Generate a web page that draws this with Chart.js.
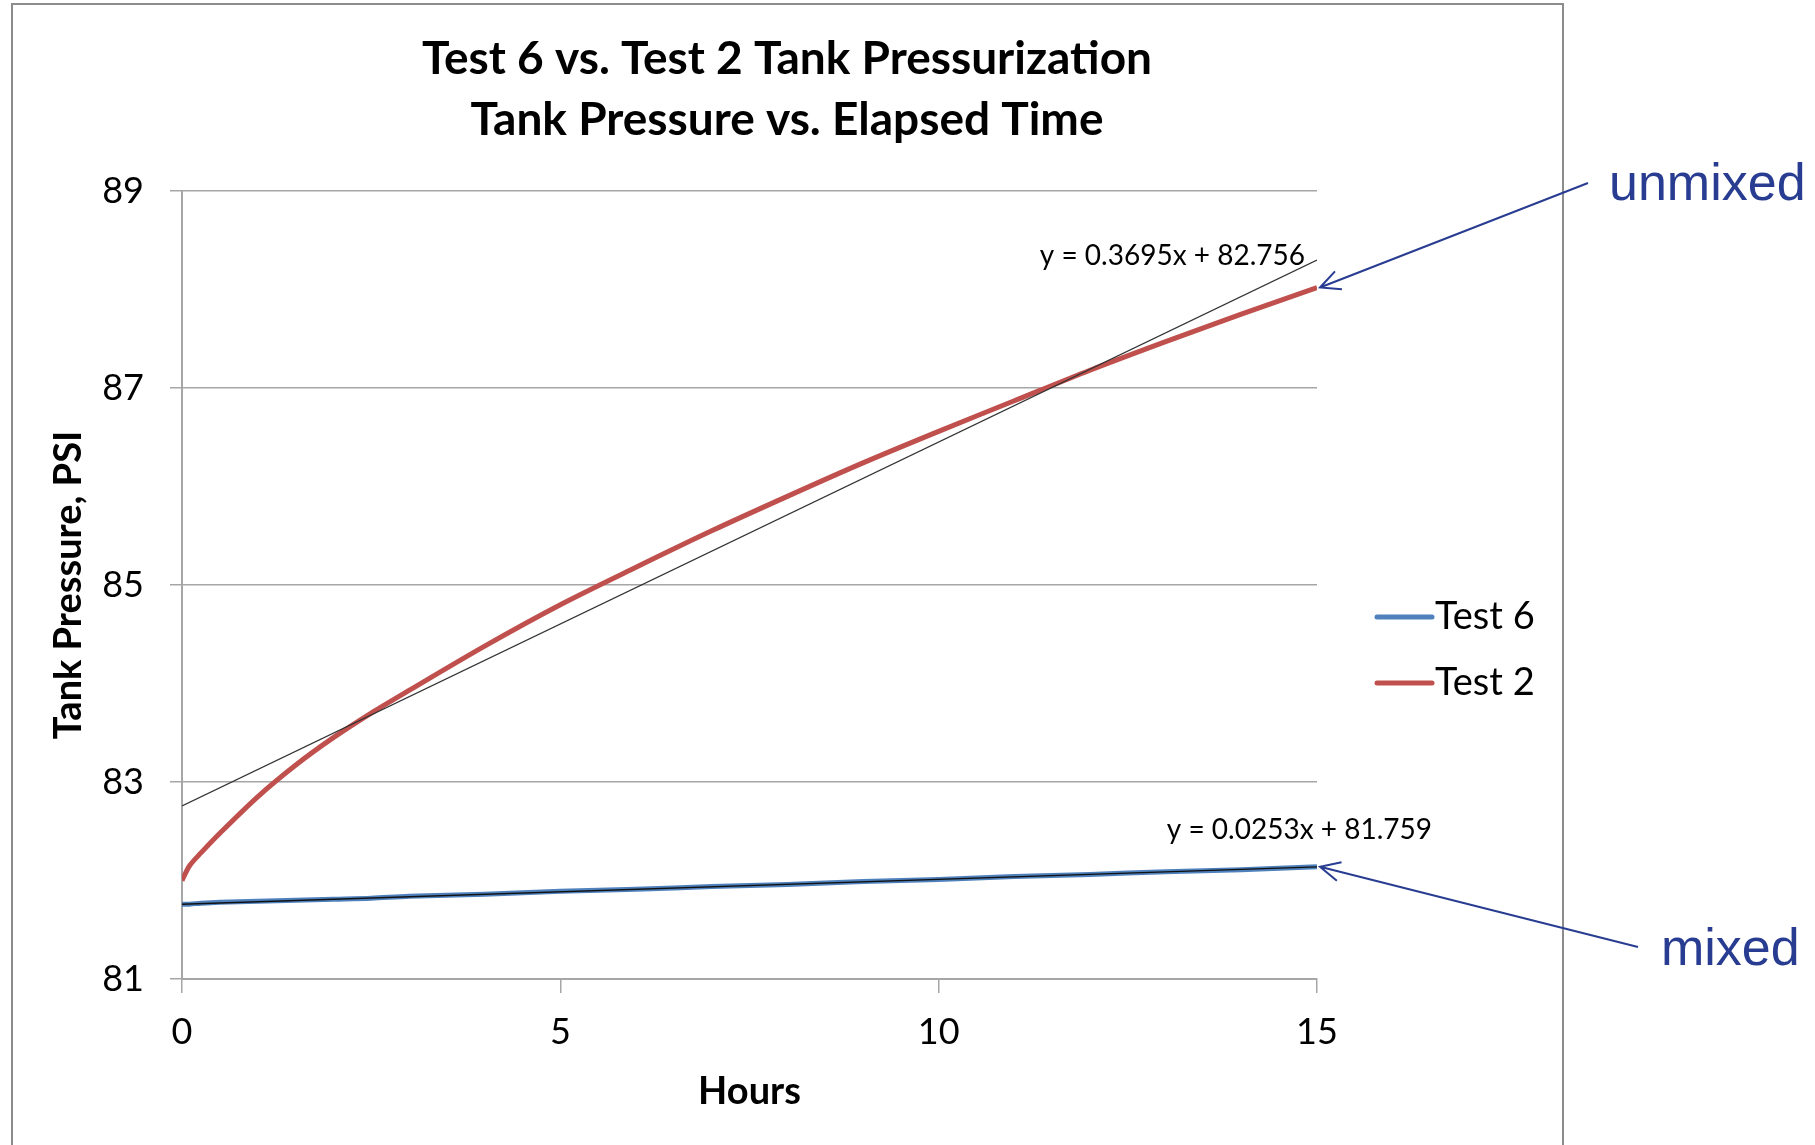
<!DOCTYPE html>
<html>
<head>
<meta charset="utf-8">
<script src="https://cdn.jsdelivr.net/npm/chart.js@4.4.1/dist/chart.umd.min.js"></script>
<style>
  html, body { margin: 0; padding: 0; background: #fff; }
  #wrap { position: relative; width: 1815px; height: 1145px; }
</style>
</head>
<body>
<div id="wrap"><canvas id="tankChart" width="1815" height="1145"></canvas></div>
<script>
// hours and tank pressure
const hours = [0, 0.1, 0.25, 0.5, 1, 1.5, 2, 2.5, 3, 4, 5, 6, 7, 8, 9, 10, 11, 12, 13, 14, 15];
const test2 = [82.0, 82.15, 82.28, 82.48, 82.85, 83.17, 83.45, 83.70, 83.93, 84.38, 84.80, 85.18, 85.55, 85.90, 86.24, 86.56, 86.87, 87.18, 87.47, 87.75, 88.02];
const test6 = [81.76, 81.76, 81.77, 81.78, 81.79, 81.80, 81.81, 81.82, 81.84, 81.86, 81.89, 81.91, 81.94, 81.96, 81.99, 82.01, 82.04, 82.06, 82.09, 82.11, 82.14];

// linear trendlines as printed on the chart
const trendHours = [0, 15];
const test2Trend = [82.756, 88.299];
const test6Trend = [81.759, 82.139];
const trendLabels = ['y = 0.3695x + 82.756', 'y = 0.0253x + 81.759'];

const xTicks = [0, 5, 10, 15];
const yTicks = [81, 83, 85, 87, 89];

const titleLines = ['Test 6 vs. Test 2 Tank Pressurization', 'Tank Pressure vs. Elapsed Time'];

const pts = (xs, ys) => xs.map((x, i) => ({ x: x, y: ys[i] }));

const FONT = 'Lato, "Open Sans", sans-serif';
const GRID = '#a6a6a6';
const NAVY = '#283c91';

function arrow(ctx, x1, y1, x2, y2) {
  const a = Math.atan2(y2 - y1, x2 - x1);
  const len = 22, spread = 0.45;
  ctx.beginPath();
  ctx.moveTo(x1, y1);
  ctx.lineTo(x2, y2);
  ctx.moveTo(x2 - len * Math.cos(a - spread), y2 - len * Math.sin(a - spread));
  ctx.lineTo(x2, y2);
  ctx.lineTo(x2 - len * Math.cos(a + spread), y2 - len * Math.sin(a + spread));
  ctx.stroke();
}

const decor = {
  id: 'decor',
  beforeDraw(chart) {
    const ctx = chart.ctx;
    ctx.save();
    ctx.fillStyle = '#fff';
    ctx.fillRect(0, 0, chart.width, chart.height);
    // chart frame
    ctx.strokeStyle = '#8c8c8c';
    ctx.lineWidth = 2;
    ctx.strokeRect(12, 4, 1551, 1200);
    ctx.restore();
  },
  afterDraw(chart) {
    const ctx = chart.ctx;
    const xs = chart.scales.x, ys = chart.scales.y;
    ctx.save();

    // two-line title
    ctx.fillStyle = '#000';
    ctx.textAlign = 'center';
    ctx.textBaseline = 'middle';
    ctx.font = 'bold 46px ' + FONT;
    ctx.fillText(titleLines[0], 787, 59);
    ctx.fillText(titleLines[1], 787, 120);

    // legend
    const lx = 1377, lys = [617, 683];
    [0, 1].forEach(i => {
      const ds = chart.data.datasets[i];
      ctx.strokeStyle = ds.borderColor;
      ctx.lineWidth = 5;
      ctx.lineCap = 'round';
      ctx.beginPath();
      ctx.moveTo(lx, lys[i]);
      ctx.lineTo(lx + 55, lys[i]);
      ctx.stroke();
      ctx.fillStyle = '#000';
      ctx.textAlign = 'left';
      ctx.font = '38px ' + FONT;
      ctx.fillText(ds.label, lx + 58, lys[i]);
    });

    // trendline equations
    ctx.font = '28px ' + FONT;
    ctx.textAlign = 'right';
    ctx.fillStyle = '#000';
    ctx.fillText(trendLabels[0], xs.getPixelForValue(15) - 12, ys.getPixelForValue(test2Trend[1]) - 4);
    ctx.fillText(trendLabels[1], xs.getPixelForValue(15) + 115, ys.getPixelForValue(test6Trend[1]) - 37);

    // callout arrows
    ctx.strokeStyle = NAVY;
    ctx.lineWidth = 2;
    ctx.lineCap = 'butt';
    const ex = xs.getPixelForValue(15) + 3;
    arrow(ctx, 1588, 183, ex, ys.getPixelForValue(test2[test2.length - 1]));
    arrow(ctx, 1638, 947, ex, ys.getPixelForValue(test6[test6.length - 1]));
    ctx.fillStyle = NAVY;
    ctx.font = '52px "Liberation Sans", Arial, sans-serif';
    ctx.textAlign = 'left';
    ctx.fillText('unmixed', 1609, 186);
    ctx.fillText('mixed', 1661, 951);
    ctx.restore();
  }
};

new Chart(document.getElementById('tankChart'), {
  type: 'scatter',
  data: {
    datasets: [
      { label: 'Test 6', data: pts(hours, test6), showLine: true, borderColor: '#4f81bd', borderWidth: 5, pointRadius: 0, tension: 0.3, order: 3 },
      { label: 'Test 2', data: pts(hours, test2), showLine: true, borderColor: '#c0504d', borderWidth: 5, pointRadius: 0, tension: 0.3, order: 2 },
      { label: 'trend2', data: pts(trendHours, test2Trend), showLine: true, borderColor: '#333', borderWidth: 1.3, pointRadius: 0, order: 1 },
      { label: 'trend6', data: pts(trendHours, test6Trend), showLine: true, borderColor: '#111', borderWidth: 1.3, pointRadius: 0, order: 0 }
    ]
  },
  options: {
    responsive: false,
    animation: false,
    layout: { padding: { top: 191, right: 498, bottom: 0, left: 0 } },
    plugins: {
      legend: { display: false },
      title: { display: false },
      tooltip: { enabled: false }
    },
    scales: {
      x: {
        type: 'linear',
        min: 0,
        max: 15,
        afterBuildTicks: s => { s.ticks = xTicks.map(v => ({ value: v })); },
        afterFit: s => { s.height = 166; },
        grid: { drawOnChartArea: false, drawTicks: true, tickLength: 14, color: GRID, lineWidth: 1.5 },
        border: { color: GRID, width: 2 },
        ticks: { padding: 18, color: '#000', font: { family: FONT, size: 36 }, maxRotation: 0 },
        title: { display: true, text: 'Hours', color: '#000', font: { family: FONT, size: 38, weight: 'bold' }, padding: { top: 0, bottom: 30 } }
      },
      y: {
        type: 'linear',
        min: 81,
        max: 89,
        afterBuildTicks: s => { s.ticks = yTicks.map(v => ({ value: v })); },
        afterFit: s => { s.width = 182; },
        grid: { color: GRID, lineWidth: 1.5, tickLength: 12 },
        border: { color: GRID, width: 2 },
        ticks: { padding: 26, color: '#000', font: { family: FONT, size: 36 } },
        title: { display: true, text: 'Tank Pressure, PSI', color: '#000', font: { family: FONT, size: 38, weight: 'bold' }, padding: { top: 46, bottom: 0 } }
      }
    }
  },
  plugins: [decor]
});
</script>
</body>
</html>
